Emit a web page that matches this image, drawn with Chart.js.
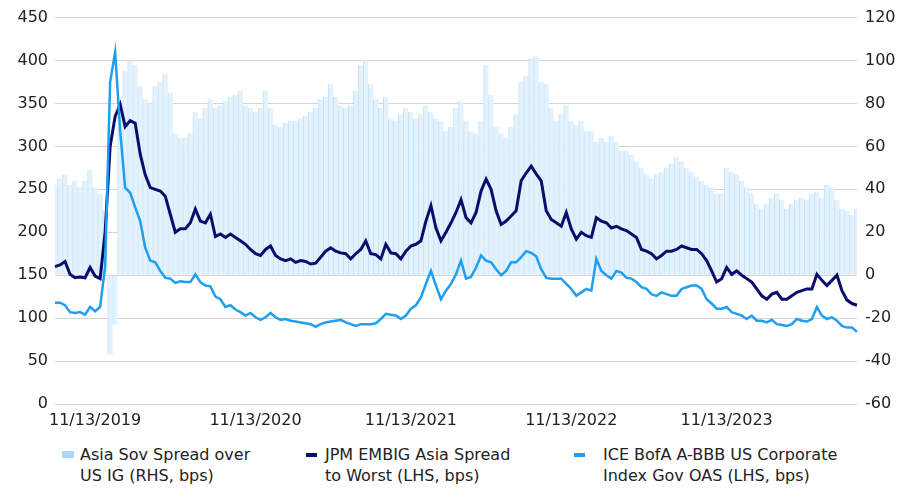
<!DOCTYPE html>
<html>
<head>
<meta charset="utf-8">
<script src="https://cdn.jsdelivr.net/npm/chart.js@4.4.1/dist/chart.umd.min.js"></script>
<style>
  body { margin: 0; background: #fff; }
  #wrap { position: relative; width: 910px; height: 488px; font-family: 'DejaVu Sans', sans-serif; color: #222; }
  .mk { position: absolute; }
  .lg { position: absolute; top: 444px; font-size: 16px; line-height: 21px; white-space: nowrap; }
</style>
</head>
<body>
<div id="wrap">
  <canvas id="myChart" width="910" height="435"></canvas>
  <span class="mk" style="left:62px;top:451px;width:12px;height:7px;background:#a9d9f7"></span>
  <div class="lg" style="left:80px">Asia Sov Spread over<br>US IG (RHS, bps)</div>
  <span class="mk" style="left:306px;top:453px;width:11px;height:4px;background:#0c0c6c"></span>
  <div class="lg" style="left:325px">JPM EMBIG Asia Spread<br>to Worst (LHS, bps)</div>
  <span class="mk" style="left:574px;top:453px;width:11px;height:4px;background:#1e9ff0"></span>
  <div class="lg" style="left:603px">ICE BofA A-BBB US Corporate<br>Index Gov OAS (LHS, bps)</div>
</div>
<script>
// x axis tick labels and where they sit along the series
const tickLabels = ['11/13/2019', '11/13/2020', '11/13/2021', '11/13/2022', '11/13/2023'];
const tickIndex = [8, 40, 71, 103, 134];

// Asia Sov Spread over US IG (RHS, bps)
const asiaSov = [
  42, 45, 47, 42, 44, 41, 44, 49, 41, 38,
  30, -37, -23, 80, 95, 100, 98, 88, 82, 80,
  88, 90, 94, 85, 66, 64, 64, 66, 76, 73,
  78, 82, 78, 79, 81, 83, 84, 86, 79, 78,
  76, 78, 86, 78, 70, 69, 71, 72, 72, 73,
  74, 76, 78, 82, 83, 89, 83, 79, 78, 79,
  86, 98, 100, 89, 82, 78, 83, 73, 72, 75,
  78, 76, 73, 75, 79, 76, 73, 72, 67, 69,
  78, 81, 72, 67, 66, 72, 98, 84, 69, 66,
  64, 69, 75, 90, 93, 101, 102, 90, 89, 78,
  72, 75, 79, 72, 70, 72, 67, 67, 62, 64,
  62, 65, 62, 58, 58, 56, 53, 50, 47, 45,
  47, 48, 50, 52, 55, 53, 50, 48, 46, 44,
  42, 41, 38, 38, 50, 48, 47, 44, 41, 38,
  33, 31, 33, 36, 38, 35, 31, 33, 35, 36,
  35, 38, 39, 36, 42, 41, 35, 31, 30, 28,
  31
];

// JPM EMBIG Asia Spread to Worst (LHS, bps)
const embig = [
  160, 162, 166, 151, 147, 148, 147, 159, 149, 146,
  200, 300, 335, 349, 323, 330, 327, 291, 267, 252,
  250, 248, 242, 221, 200, 204, 204, 211, 227, 213,
  211, 221, 195, 198, 194, 198, 194, 190, 186, 180,
  175, 173, 180, 184, 173, 169, 167, 169, 165, 167,
  166, 163, 164, 171, 178, 182, 178, 176, 175, 169,
  175, 180, 190, 175, 174, 169, 186, 176, 175, 169,
  178, 184, 186, 190, 213, 231, 205, 190, 200, 211,
  223, 238, 217, 211, 223, 248, 262, 250, 225, 209,
  213, 219, 225, 260, 269, 277, 268, 260, 225, 215,
  211, 207, 223, 204, 192, 200, 196, 194, 217, 213,
  211, 205, 207, 204, 202, 198, 194, 180, 178, 175,
  169, 173, 178, 178, 180, 184, 182, 180, 180, 175,
  167, 155, 142, 146, 159, 151, 155, 150, 146, 142,
  134, 126, 122, 128, 130, 122, 122, 126, 130, 132,
  134, 134, 151, 144, 138, 144, 150, 132, 121, 117,
  115
];

// ICE BofA A-BBB US Corporate Index Gov OAS (LHS, bps)
const iceOas = [
  118, 118, 115, 107, 106, 107, 104, 113, 108, 113,
  160, 375, 410, 318, 252, 246, 229, 213, 182, 167,
  165, 155, 147, 146, 141, 143, 142, 142, 151, 142,
  138, 137, 125, 122, 113, 115, 110, 107, 103, 106,
  101, 98, 101, 106, 101, 98, 99, 97, 96, 95,
  94, 93, 90, 93, 95, 96, 97, 98, 95, 93,
  91, 93, 93, 93, 94, 99, 105, 104, 103, 99,
  103, 111, 115, 124, 140, 155, 138, 122, 132, 140,
  151, 167, 146, 148, 159, 173, 167, 165, 157, 150,
  155, 165, 165, 171, 178, 176, 172, 157, 147, 146,
  146, 146, 140, 134, 126, 130, 134, 132, 169, 155,
  150, 146, 155, 153, 147, 146, 142, 136, 134, 128,
  126, 130, 128, 126, 126, 134, 136, 138, 138, 134,
  122, 117, 111, 111, 113, 107, 105, 103, 99, 103,
  97, 97, 95, 98, 93, 92, 91, 93, 99, 97,
  96, 99, 113, 103, 99, 101, 97, 91, 89, 89,
  84
];

const labels = embig.map((v, i) => String(i));

const tickFont = { family: 'DejaVu Sans', size: 16 };
const tickColor = '#222';

const ctx = document.getElementById('myChart');

new Chart(ctx, {
  data: {
    labels,
    datasets: [
      {
        type: 'line',
        label: 'ICE BofA A-BBB US Corporate Index Gov OAS (LHS, bps)',
        data: iceOas,
        yAxisID: 'y',
        borderColor: '#1e9ff0',
        borderWidth: 2.5,
        pointRadius: 0,
        tension: 0,
        order: 0,
      },
      {
        type: 'line',
        label: 'JPM EMBIG Asia Spread to Worst (LHS, bps)',
        data: embig,
        yAxisID: 'y',
        borderColor: '#0c0c6c',
        borderWidth: 3,
        pointRadius: 0,
        tension: 0,
        order: 1,
      },
      {
        type: 'bar',
        label: 'Asia Sov Spread over US IG (RHS, bps)',
        data: asiaSov,
        yAxisID: 'y1',
        // pale fill with a thin darker edge gives the striped look
        backgroundColor: '#e4f2fd',
        borderColor: '#c3e2f9',
        borderWidth: { left: 1, right: 0, top: 0, bottom: 0 },
        borderSkipped: false,
        barPercentage: 1,
        categoryPercentage: 1,
        order: 2,
      },
    ],
  },
  options: {
    responsive: false,
    animation: false,
    layout: { padding: { top: 16, left: 0, right: 0, bottom: 0 } },
    plugins: {
      legend: { display: false },
      tooltip: { enabled: false },
    },
    scales: {
      x: {
        type: 'category',
        offset: false,
        grid: { display: false, drawTicks: false },
        border: { display: false },
        afterBuildTicks: (scale) => {
          scale.ticks = scale.ticks.filter((t) => tickIndex.includes(t.value));
        },
        afterFit: (scale) => {
          scale.height = 31;
        },
        ticks: {
          autoSkip: false,
          maxRotation: 0,
          padding: 7,
          color: tickColor,
          font: tickFont,
          callback: (value) => tickLabels[tickIndex.indexOf(value)],
        },
      },
      y: {
        position: 'left',
        min: 0,
        max: 450,
        grid: { color: '#d4d4d4', drawTicks: false },
        border: { display: false },
        afterFit: (scale) => {
          scale.width = 55;
        },
        ticks: { stepSize: 50, padding: 7, color: tickColor, font: tickFont },
      },
      y1: {
        position: 'right',
        min: -60,
        max: 120,
        grid: { drawOnChartArea: false, drawTicks: false },
        border: { display: false },
        afterFit: (scale) => {
          scale.width = 53;
        },
        ticks: { stepSize: 20, padding: 8, color: tickColor, font: tickFont },
      },
    },
  },
});
</script>
</body>
</html>
